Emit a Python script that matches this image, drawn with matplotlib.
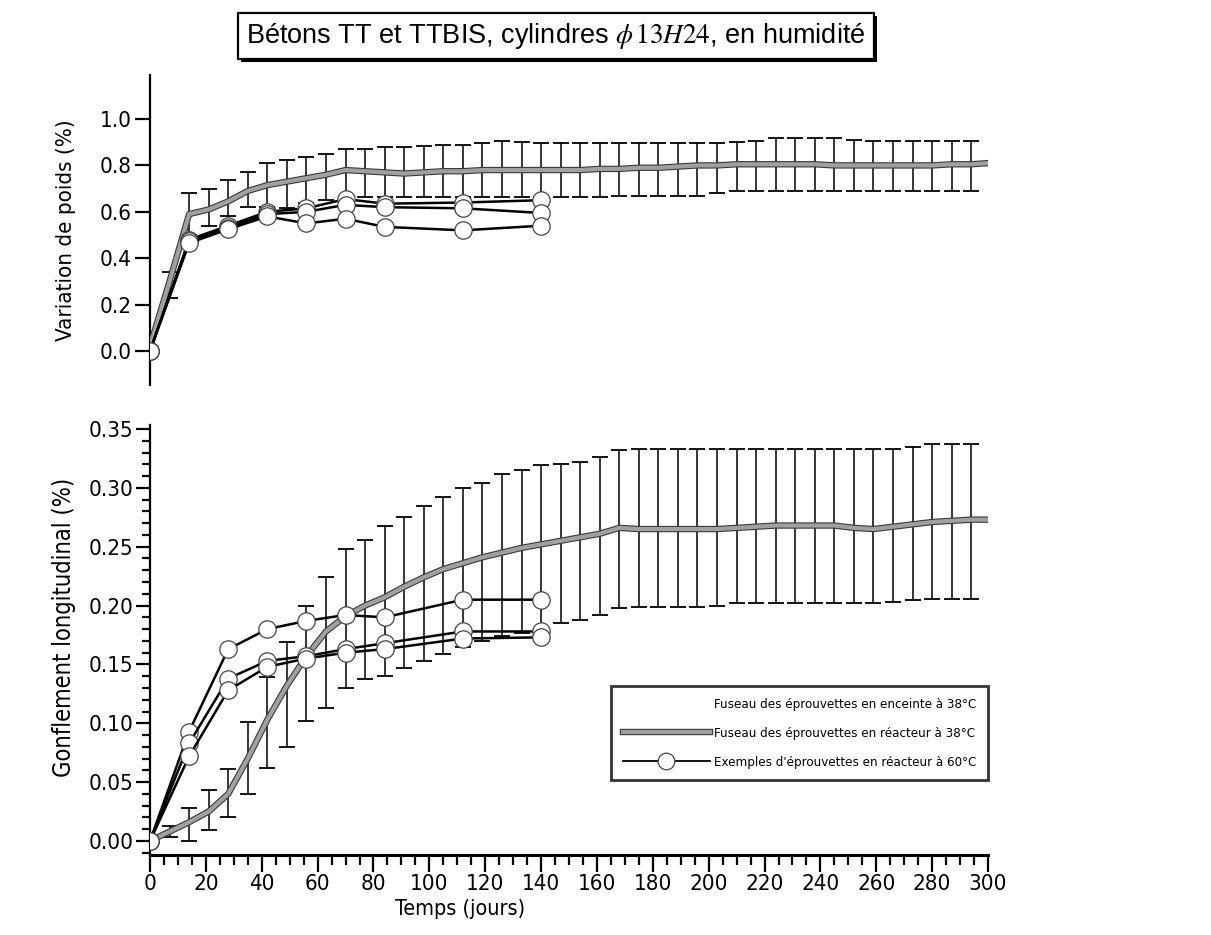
import numpy as np
import matplotlib
matplotlib.use("Agg")
import matplotlib.pyplot as plt
import matplotlib.patheffects as pe
from matplotlib import font_manager
from matplotlib.font_manager import FontProperties
from matplotlib.lines import Line2D
from matplotlib.ticker import MultipleLocator

plt.rcParams['font.family'] = ['Liberation Sans', 'DejaVu Sans']
plt.rcParams['mathtext.fontset'] = 'stix'

# look for a narrow sans face (the original uses Helvetica Narrow)
narrow = None
for f in font_manager.fontManager.ttflist:
    cond = ('Narrow' in f.name or 'Condensed' in f.name
            or str(f.stretch) in ('condensed', 'semi-condensed', '75', '87'))
    if cond and 'Mono' not in f.name and 'Serif' not in f.name \
            and f.style == 'normal' and f.weight in (400, 'normal', 'regular'):
        narrow = f.fname
        break


def font(size):
    if narrow:
        return FontProperties(fname=narrow, size=size)
    return FontProperties(family='Liberation Sans', size=size * 0.9)


tick_fp = font(16)
leg_fp = font(9.5)

# weekly measurement days (envelope bars)
bar_days = [7, 14, 21, 28, 35, 42, 49, 56, 63, 70, 77, 84, 91, 98, 105, 112, 119, 126, 133, 140,
            147, 154, 161, 168, 175, 182, 189, 196, 203, 210, 217, 224, 231, 238, 245, 252, 259,
            266, 273, 280, 287, 294]

# top panel: weight variation (%)
poids_mean = [0.30, 0.59, 0.61, 0.645, 0.69, 0.715, 0.73, 0.745, 0.76, 0.78, 0.775, 0.77, 0.765, 0.77,
              0.775, 0.775, 0.78, 0.78, 0.78, 0.78, 0.78, 0.78, 0.785, 0.785, 0.79, 0.79, 0.795, 0.80,
              0.80, 0.805, 0.805, 0.805, 0.805, 0.805, 0.80, 0.80, 0.80, 0.80, 0.80, 0.80, 0.805, 0.805]
poids_hi = [0.34, 0.68, 0.70, 0.735, 0.77, 0.81, 0.825, 0.835, 0.85, 0.87, 0.87, 0.88, 0.88, 0.885,
            0.89, 0.89, 0.895, 0.905, 0.90, 0.895, 0.895, 0.895, 0.895, 0.895, 0.895, 0.895, 0.895,
            0.895, 0.895, 0.90, 0.905, 0.92, 0.92, 0.92, 0.92, 0.91, 0.905, 0.905, 0.905, 0.905,
            0.905, 0.905]
poids_lo = [0.23, 0.50, 0.54, 0.58, 0.62, 0.62, 0.615, 0.64, 0.65, 0.66, 0.665, 0.665, 0.665, 0.665,
            0.665, 0.665, 0.665, 0.665, 0.665, 0.665, 0.665, 0.665, 0.665, 0.67, 0.67, 0.67, 0.67,
            0.67, 0.68, 0.69, 0.69, 0.69, 0.69, 0.69, 0.69, 0.69, 0.69, 0.69, 0.69, 0.69, 0.69, 0.69]
poids_start = 0.02
poids_end = 0.81

# bottom panel: longitudinal swelling (%)
gonf_mean = [0.008, 0.016, 0.025, 0.040, 0.070, 0.103, 0.132, 0.157, 0.178, 0.191, 0.200, 0.207,
             0.216, 0.224, 0.231, 0.236, 0.241, 0.245, 0.249, 0.252, 0.255, 0.258, 0.261, 0.266,
             0.265, 0.265, 0.265, 0.265, 0.265, 0.266, 0.267, 0.268, 0.268, 0.268, 0.268, 0.266,
             0.265, 0.267, 0.269, 0.271, 0.272, 0.273]
gonf_hi = [0.013, 0.028, 0.043, 0.061, 0.101, 0.139, 0.169, 0.200, 0.224, 0.248, 0.256, 0.268,
           0.275, 0.285, 0.292, 0.300, 0.304, 0.312, 0.315, 0.319, 0.320, 0.322, 0.326, 0.332,
           0.333, 0.333, 0.333, 0.333, 0.333, 0.333, 0.333, 0.333, 0.333, 0.333, 0.333, 0.333,
           0.333, 0.333, 0.335, 0.337, 0.337, 0.337]
gonf_lo = [0.003, 0.000, 0.009, 0.020, 0.040, 0.062, 0.080, 0.102, 0.113, 0.130, 0.138, 0.140,
           0.147, 0.153, 0.159, 0.165, 0.170, 0.174, 0.177, 0.180, 0.185, 0.188, 0.192, 0.198,
           0.199, 0.199, 0.199, 0.199, 0.200, 0.202, 0.202, 0.202, 0.202, 0.202, 0.202, 0.202,
           0.202, 0.203, 0.205, 0.206, 0.206, 0.206]
gonf_start = 0.0
gonf_end = 0.273

# example specimens at 60°C
ex_days = [0, 14, 28, 42, 56, 70, 84, 112, 140]
poids_ex = [
    [0, 0.48, 0.54, 0.60, 0.615, 0.655, 0.635, 0.64, 0.65],
    [0, 0.475, 0.53, 0.59, 0.60, 0.63, 0.62, 0.615, 0.595],
    [0, 0.465, 0.525, 0.58, 0.55, 0.57, 0.535, 0.52, 0.54],
]
gonf_ex = [
    [0, 0.093, 0.163, 0.180, 0.187, 0.192, 0.190, 0.205, 0.205],
    [0, 0.083, 0.138, 0.153, 0.157, 0.163, 0.168, 0.178, 0.178],
    [0, 0.072, 0.128, 0.148, 0.155, 0.160, 0.163, 0.172, 0.173],
]

labels = ["Fuseau des éprouvettes en enceinte à 38°C",
          "Fuseau des éprouvettes en réacteur à 38°C",
          "Exemples d'éprouvettes en réacteur à 60°C"]

W, H = 1211, 935
fig = plt.figure(figsize=(W / 100, H / 100), dpi=100)
ax1 = fig.add_axes([150 / W, 1 - 385 / H, 838 / W, 310 / H])
ax2 = fig.add_axes([150 / W, 1 - 855 / H, 838 / W, 430 / H])

gray_fx = [pe.Stroke(linewidth=4.6, foreground='#3a3a3a'), pe.Normal()]


def draw_panel(ax, mean, lo, hi, start, end, examples):
    lo = np.array(lo)
    hi = np.array(hi)
    ax.errorbar(bar_days, (lo + hi) / 2, yerr=(hi - lo) / 2, fmt='none', ecolor='black',
                elinewidth=1.1, capsize=6, capthick=1.3, zorder=2)
    x = [0] + bar_days + [300]
    y = [start] + list(mean) + [end]
    ax.plot(x, y, color='#a0a0a0', lw=3, path_effects=gray_fx, zorder=3,
            solid_joinstyle='round')
    for s in examples:
        ax.plot(ex_days, s, color='black', lw=1.8, marker='o', ms=12.5, mfc='white',
                mec='#444444', mew=0.9, zorder=4)


draw_panel(ax1, poids_mean, poids_lo, poids_hi, poids_start, poids_end, poids_ex)
draw_panel(ax2, gonf_mean, gonf_lo, gonf_hi, gonf_start, gonf_end, gonf_ex)

# top axes: only the left spine
ax1.set_xlim(0, 300)
ax1.set_ylim(-0.147, 1.19)
for s in ['top', 'right', 'bottom']:
    ax1.spines[s].set_visible(False)
ax1.spines['left'].set_linewidth(1.6)
ax1.set_xticks([])
ax1.set_yticks([0.0, 0.2, 0.4, 0.6, 0.8, 1.0])
ax1.set_yticklabels(['0.0', '0.2', '0.4', '0.6', '0.8', '1.0'])
ax1.tick_params(axis='y', direction='out', length=11, width=1.6, pad=2)
ax1.set_ylabel('Variation de poids (%)', fontproperties=font(16))
ax1.yaxis.set_label_coords(-0.088, 0.50)

# bottom axes
ax2.set_xlim(0, 300)
ax2.set_ylim(-0.0119, 0.3534)
for s in ['top', 'right']:
    ax2.spines[s].set_visible(False)
ax2.spines['left'].set_linewidth(1.6)
ax2.spines['bottom'].set_linewidth(2.2)
ax2.set_xticks(range(0, 301, 20))
ax2.xaxis.set_minor_locator(MultipleLocator(5))
ax2.set_yticks([0.0, 0.05, 0.10, 0.15, 0.20, 0.25, 0.30, 0.35])
ax2.set_yticklabels(['0.00', '0.05', '0.10', '0.15', '0.20', '0.25', '0.30', '0.35'])
ax2.yaxis.set_minor_locator(MultipleLocator(0.01))
ax2.tick_params(axis='y', which='major', direction='out', length=10, width=1.6, pad=2)
ax2.tick_params(axis='y', which='minor', direction='out', length=6, width=1.6)
ax2.tick_params(axis='x', which='major', direction='out', length=12, width=1.6, pad=2)
ax2.tick_params(axis='x', which='minor', direction='out', length=7, width=1.6)
ax2.set_xlabel('Temps (jours)', fontproperties=font(15.5))
ax2.xaxis.set_label_coords(0.37, -0.103)
ax2.set_ylabel('Gonflement longitudinal (%)', fontproperties=font(17))
ax2.yaxis.set_label_coords(-0.088, 0.53)

for ax in (ax1, ax2):
    for t in ax.get_xticklabels() + ax.get_yticklabels():
        t.set_fontproperties(tick_fp)

handles = [
    Line2D([], [], color='white', lw=0),
    Line2D([], [], color='#a0a0a0', lw=3, path_effects=gray_fx),
    Line2D([], [], color='black', lw=1.3, marker='o', ms=12, mfc='white', mec='#444444', mew=0.9),
]
leg = ax2.legend(handles, labels, loc='upper right', bbox_to_anchor=(1.0, 0.393),
                 borderaxespad=0, prop=leg_fp, frameon=True, fancybox=False,
                 handlelength=6.6, handletextpad=0.3, labelspacing=1.2, borderpad=0.9)
leg.get_frame().set_edgecolor('black')
leg.get_frame().set_linewidth(2.0)

title = r"Bétons TT et TTBIS, cylindres $\phi\,13H24$, en humidité"
ttl = fig.text(556 / W, 1 - 36 / H, title, ha='center', va='center', fontsize=19.5,
               bbox=dict(boxstyle='square,pad=0.3', fc='white', ec='black', lw=1.6))
ttl.get_bbox_patch().set_path_effects(
    [pe.SimplePatchShadow(offset=(2, -2), shadow_rgbFace='black', alpha=1), pe.Normal()])

fig.savefig('out.png', dpi=100)
